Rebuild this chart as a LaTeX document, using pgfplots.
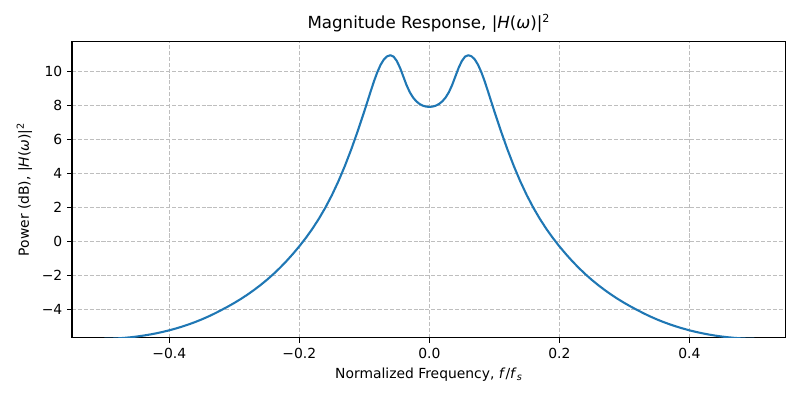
\documentclass[border=0pt]{standalone}
\usepackage{fontspec}
\setmainfont{DejaVu Sans}
\usepackage{pgfplots}
\pgfplotsset{compat=1.18}
\definecolor{mplblue}{RGB}{31,119,180}
\definecolor{gridgray}{RGB}{190,190,190}
\begin{document}
\begin{tikzpicture}
\begin{axis}[
  scale only axis,
  width=513.9pt, height=213.4pt,
  xmin=-0.5497, xmax=0.5483, ymin=-5.68, ymax=11.76,
  axis line style={line width=0.8pt},
  every tick/.style={line width=0.8pt, black},
  tick align=outside, major tick length=3.5pt,
  tick pos=left,
  xtick={-0.4,-0.2,0,0.2,0.4},
  xticklabels={−0.4,−0.2,0.0,0.2,0.4},
  ytick={-4,-2,0,2,4,6,8,10},
  yticklabels={−4,−2,0,2,4,6,8,10},
  grid=major,
  major grid style={dash pattern=on 2.96pt off 1.28pt, color=gridgray, line width=0.6pt},
  tick label style={font=\fontsize{10}{12}\selectfont},
  xticklabel style={yshift=-0.5pt},
  label style={font=\fontsize{10}{12}\selectfont},
  title style={font=\fontsize{12}{14}\selectfont, at={(0.5,1)}, anchor=base, yshift=3.2pt},
  title={Magnitude Response, |\textit{H}(\textit{ω})|\textsuperscript{2}},
  xlabel={Normalized Frequency, \textit{f}/\textit{f}\textsubscript{\textit{s}}},
  ylabel={Power (dB), |\textit{H}(\textit{ω})|\textsuperscript{2}},
  clip=true,
]
\addplot[color=mplblue, line width=1.5pt, line join=round] coordinates {
(-0.50,-5.744) (-0.49,-5.737) (-0.48,-5.720) (-0.47,-5.693) (-0.46,-5.657)
(-0.45,-5.612) (-0.44,-5.558) (-0.43,-5.495) (-0.42,-5.422) (-0.41,-5.339)
(-0.40,-5.245) (-0.39,-5.140) (-0.38,-5.024) (-0.37,-4.896) (-0.36,-4.756)
(-0.35,-4.602) (-0.34,-4.435) (-0.33,-4.252) (-0.32,-4.055) (-0.31,-3.852)
(-0.30,-3.635) (-0.29,-3.402) (-0.28,-3.152) (-0.27,-2.882) (-0.26,-2.592)
(-0.25,-2.280) (-0.24,-1.942) (-0.23,-1.577) (-0.22,-1.182) (-0.21,-0.757)
(-0.20,-0.302) (-0.195,-0.057) (-0.19,0.188) (-0.185,0.455) (-0.18,0.723)
(-0.175,1.018) (-0.17,1.313) (-0.165,1.640) (-0.16,1.968) (-0.155,2.333)
(-0.15,2.698) (-0.145,3.105) (-0.14,3.513) (-0.135,3.965) (-0.13,4.418)
(-0.125,4.915) (-0.12,5.413) (-0.115,5.953) (-0.11,6.493) (-0.105,7.068)
(-0.10,7.643) (-0.095,8.240) (-0.09,8.843) (-0.085,9.423) (-0.08,9.945)
(-0.075,10.375) (-0.07,10.688) (-0.065,10.875) (-0.06,10.940) (-0.055,10.860)
(-0.05,10.600) (-0.045,10.193) (-0.04,9.685) (-0.035,9.178) (-0.03,8.760)
(-0.025,8.450) (-0.02,8.228) (-0.015,8.073) (-0.01,7.973) (-0.005,7.918)
(0.000,7.900)
(0.005,7.918) (0.01,7.973) (0.015,8.073) (0.02,8.228) (0.025,8.450)
(0.03,8.760) (0.035,9.178) (0.04,9.685) (0.045,10.193) (0.05,10.600)
(0.055,10.860) (0.06,10.940) (0.065,10.875) (0.07,10.688) (0.075,10.375)
(0.08,9.945) (0.085,9.423) (0.09,8.843) (0.095,8.240) (0.10,7.643)
(0.105,7.068) (0.11,6.493) (0.115,5.953) (0.12,5.413) (0.125,4.915)
(0.13,4.418) (0.135,3.965) (0.14,3.513) (0.145,3.105) (0.15,2.698)
(0.155,2.333) (0.16,1.968) (0.165,1.640) (0.17,1.313) (0.175,1.018)
(0.18,0.723) (0.185,0.455) (0.19,0.188) (0.195,-0.057) (0.20,-0.302)
(0.21,-0.757) (0.22,-1.182) (0.23,-1.577) (0.24,-1.942) (0.25,-2.280)
(0.26,-2.592) (0.27,-2.882) (0.28,-3.152) (0.29,-3.402) (0.30,-3.635)
(0.31,-3.852) (0.32,-4.055) (0.33,-4.252) (0.34,-4.435) (0.35,-4.602)
(0.36,-4.756) (0.37,-4.896) (0.38,-5.024) (0.39,-5.140) (0.40,-5.245)
(0.41,-5.339) (0.42,-5.422) (0.43,-5.495) (0.44,-5.558) (0.45,-5.612)
(0.46,-5.657) (0.47,-5.693) (0.48,-5.720) (0.49,-5.737) (0.50,-5.744)
};
\end{axis}
\pgfresetboundingbox
\path[use as bounding box] (current axis.south west) ++(-51.84pt,-44.86pt) rectangle ++(576pt,288pt);
\end{tikzpicture}
\end{document}
